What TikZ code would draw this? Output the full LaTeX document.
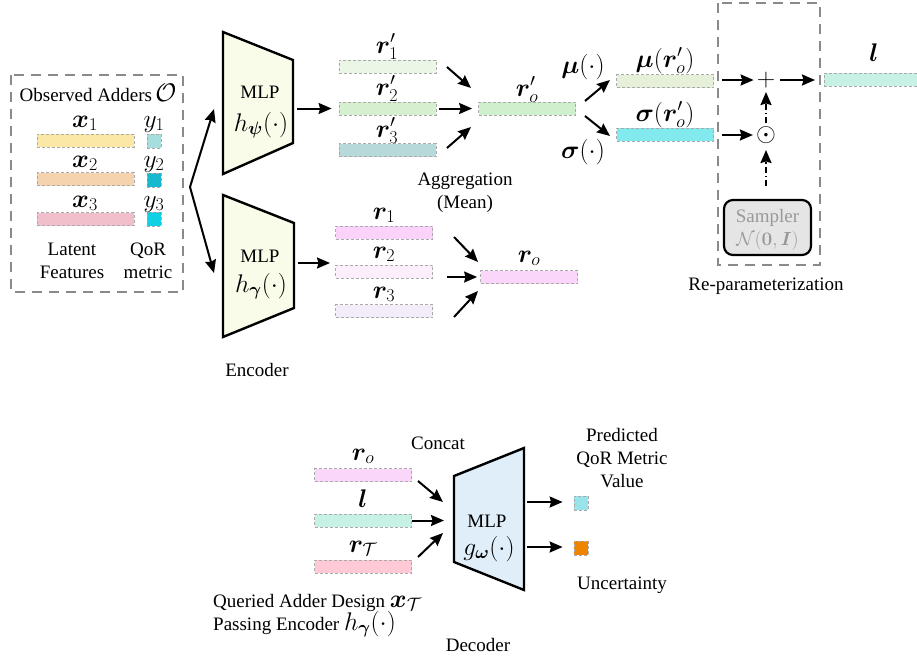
\documentclass[tikz,border=0pt]{standalone}
\usepackage{fix-cm}
\usepackage{amsmath}
\usepackage{bm}
\usepackage[no-math]{fontspec}
\setmainfont{Liberation Serif}
\DeclareMathSizes{19}{25.5}{18}{13}
\DeclareMathSizes{14.5}{19}{13.5}{9.5}
\usetikzlibrary{arrows.meta}

\definecolor{boxgray}{HTML}{8A8A8A}
\definecolor{bargray}{HTML}{AAAAAA}
\definecolor{cXa}{HTML}{FBE8A6}
\definecolor{cXb}{HTML}{F5D3AE}
\definecolor{cXc}{HTML}{F0BFCB}
\definecolor{cYa}{HTML}{A6DDDD}
\definecolor{cYb}{HTML}{18B8CF}
\definecolor{cYc}{HTML}{12D0E3}
\definecolor{cRPa}{HTML}{EAF7E6}
\definecolor{cRPb}{HTML}{D6F0CF}
\definecolor{cRPc}{HTML}{B7D9D9}
\definecolor{cRPo}{HTML}{CFF0CC}
\definecolor{cMu}{HTML}{E6F0D9}
\definecolor{cSig}{HTML}{82E9EF}
\definecolor{cL}{HTML}{C8F1E5}
\definecolor{cRa}{HTML}{FAD2FA}
\definecolor{cRb}{HTML}{FCEEFA}
\definecolor{cRc}{HTML}{F2EDF9}
\definecolor{cRo}{HTML}{FAD7FA}
\definecolor{cRT}{HTML}{FFCAD5}
\definecolor{cOutA}{HTML}{99E3EA}
\definecolor{cOutB}{HTML}{EE8500}
\definecolor{encfill}{HTML}{F9FCE9}
\definecolor{decfill}{HTML}{DFEEF9}
\definecolor{sampfill}{HTML}{E5E5E5}
\definecolor{samptext}{HTML}{999999}

\newcommand{\bv}[1]{\bm{#1}}

\begin{document}
\begin{tikzpicture}[x=1pt,y=-1pt,
  every node/.style={font=\fontsize{19}{23}\selectfont, inner sep=0pt},
  lab/.style={anchor=base},
  bar/.style={draw=bargray, dashed, dash pattern=on 3pt off 2pt, line width=0.8pt,
              minimum width=97pt, minimum height=13pt},
  sq/.style={draw=bargray, dashed, dash pattern=on 3pt off 2pt, line width=0.8pt,
             minimum width=14pt, minimum height=14pt},
  groupbox/.style={draw=boxgray, line width=2pt, dash pattern=on 10pt off 7pt},
  mlp/.style={draw=black, line width=2.4pt, line join=miter},
  arr/.style={-{Stealth[length=13pt,width=11pt,inset=1.5pt]}, line width=2pt},
  dotarr/.style={arr, dash pattern=on 6pt off 3pt on 1.5pt off 3pt}
]
\useasboundingbox (0,0) rectangle (917,661);

% ---------- observed adders ----------
\draw[groupbox] (11,75) rectangle (183,292);
\node[lab] (obs) at (98,101) {Observed Adders\,$\mathcal{O}$};
\node[bar, fill=cXa] (xa) at (85.5,140.5) {};
\node[bar, fill=cXb] (xb) at (85.5,179) {};
\node[bar, fill=cXc] (xc) at (85.5,219) {};
\node[lab] (xal) at (85,127) {$\bv{x}_1$};
\node[lab] (xbl) at (85,167) {$\bv{x}_2$};
\node[lab] (xcl) at (85,207) {$\bv{x}_3$};
\node[sq, fill=cYa] (ya) at (154,141) {};
\node[sq, fill=cYb] (yb) at (154,180) {};
\node[sq, fill=cYc] (yc) at (154,219) {};
\node[lab] (yal) at (154,127) {$y_1$};
\node[lab] (ybl) at (154,167) {$y_2$};
\node[lab] (ycl) at (154,207) {$y_3$};
\node[align=center] (latent) at (72,261) {Latent\\Features};
\node[align=center] (qor) at (148,261) {QoR\\metric};

% ---------- encoders ----------
\coordinate (fork) at (190,187);
\draw[mlp, fill=encfill] (223,32) -- (293,60) -- (293,143) -- (223,174) -- cycle;
\node[lab] (mlpa) at (260,98) {MLP};
\node[lab] (mlpaf) at (261,131) {$h_{\bv{\psi}}(\cdot)$};
\draw[mlp, fill=encfill] (223,195) -- (294,223) -- (294,308) -- (223,337) -- cycle;
\node[lab] (mlpb) at (260,262) {MLP};
\node[lab] (mlpbf) at (261,292) {$h_{\bv{\gamma}}(\cdot)$};
\coordinate (mlpaIn) at (214,109);
\coordinate (mlpbIn) at (214,273);
\draw[arr] (fork) -- (mlpaIn);
\draw[arr] (fork) -- (mlpbIn);
\node (enc) at (257,370) {Encoder};

% upper branch
\node[bar, fill=cRPa] (rpa) at (387.5,66.5) {};
\node[bar, fill=cRPb] (rpb) at (387.5,108.5) {};
\node[bar, fill=cRPc] (rpc) at (387.5,150) {};
\node[lab] (rpal) at (387,53) {$\bv{r}'_1$};
\node[lab] (rpbl) at (387,95) {$\bv{r}'_2$};
\node[lab] (rpcl) at (387,137) {$\bv{r}'_3$};
\coordinate (mlpaOut) at (297,108.5);
\draw[arr, shorten >=7pt] (mlpaOut) -- (rpb.west);
\node[bar, fill=cRPo] (rpo) at (527,108.5) {};
\node[lab] (rpol) at (527,96) {$\bv{r}'_o$};
\coordinate (aggA) at (447,67);
\coordinate (aggAe) at (471,88);
\coordinate (aggC) at (447,148);
\coordinate (aggCe) at (471,127);
\draw[arr] (aggA) -- (aggAe);
\draw[arr, shorten <=3pt, shorten >=6pt] (rpb.east) -- (rpo.west);
\draw[arr] (aggC) -- (aggCe);
\node[align=center] (agg) at (465,193) {Aggregation\\(Mean)};

% lower branch
\node[bar, fill=cRa] (ra) at (384,232.5) {};
\node[bar, fill=cRb] (rb) at (384,271.5) {};
\node[bar, fill=cRc] (rc) at (384,311) {};
\node[lab] (ral) at (384,219) {$\bv{r}_1$};
\node[lab] (rbl) at (384,258) {$\bv{r}_2$};
\node[lab] (rcl) at (384,298) {$\bv{r}_3$};
\coordinate (mlpbOut) at (298,263);
\coordinate (rbIn) at (330,263);
\draw[arr] (mlpbOut) -- (rbIn);
\node[bar, fill=cRo] (ro) at (529,277) {};
\node[lab] (rol) at (529,262) {$\bv{r}_o$};
\coordinate (mA) at (454,237);
\coordinate (mAe) at (478,262);
\coordinate (mB) at (447,277);
\coordinate (mC) at (454,317);
\coordinate (mCe) at (478,291);
\draw[arr] (mA) -- (mAe);
\draw[arr, shorten >=3pt] (mB) -- (ro.west);
\draw[arr] (mC) -- (mCe);

% ---------- mean / std heads ----------
\node[lab] (mufn) at (583,73) {$\bv{\mu}(\cdot)$};
\node[lab] (sigfn) at (583,158) {$\bv{\sigma}(\cdot)$};
\coordinate (hA) at (585,101);
\coordinate (hAe) at (610,80);
\coordinate (hB) at (585,116);
\coordinate (hBe) at (610,136);
\draw[arr] (hA) -- (hAe);
\draw[arr] (hB) -- (hBe);
\node[bar, fill=cMu] (mu) at (665,81) {};
\node[bar, fill=cSig] (sig) at (665,134.5) {};
\node[lab] (mul) at (665,67) {$\bv{\mu}(\bv{r}'_o)$};
\node[lab] (sigl) at (665,121) {$\bv{\sigma}(\bv{r}'_o)$};

% ---------- re-parameterization ----------
\draw[groupbox] (718,3) rectangle (820,265);
\node (plus) at (766,80) {$+$};
\node (odot) at (766,135) {$\odot$};
\coordinate (muIn) at (722,80);
\coordinate (sigIn) at (722,135);
\draw[arr, shorten >=3pt] (muIn) -- (plus.west);
\draw[arr, shorten >=3pt] (sigIn) -- (odot.west);
\node[draw=black, line width=2.2pt, fill=sampfill, rounded corners=9pt,
      minimum width=87pt, minimum height=55pt] (samp) at (767.5,227.5) {};
\node[text=samptext] (sampname) at (767.5,218) {Sampler};
\node[text=samptext, font=\fontsize{14.5}{17}\selectfont] (sampdist) at (767.5,241)
      {$\mathcal{N}(\bv{0},\bv{I})$};
\coordinate (sampTop) at (766,186);
\coordinate (odotBot) at (766,150);
\coordinate (odotTop) at (766,123);
\coordinate (plusBot) at (766,92);
\draw[dotarr] (sampTop) -- (odotBot);
\draw[dotarr] (odotTop) -- (plusBot);
\node (reparam) at (766,286) {Re-parameterization};
\node[bar, fill=cL, minimum width=100pt] (lvec) at (874,79.5) {};
\node[lab] (lvecl) at (874,62) {$\bv{l}$};
\coordinate (lIn) at (815,80);
\draw[arr, shorten <=5pt] (plus.east) -- (lIn);

% ---------- decoder ----------
\node[bar, fill=cRo] (dro) at (363,475) {};
\node[bar, fill=cL] (dl) at (363,520.5) {};
\node[bar, fill=cRT] (drt) at (363,566.5) {};
\node[lab] (drol) at (363,460) {$\bv{r}_o$};
\node[lab] (dll) at (363,507) {$\bv{l}$};
\node[lab] (drtl) at (363,552) {$\bv{r}_{\mathcal{T}}$};
\node (concat) at (438,443) {Concat};
\draw[mlp, fill=decfill] (454,476) -- (524,448) -- (524,590) -- (454,562) -- cycle;
\node[lab] (mlpc) at (487,527) {MLP};
\node[lab] (mlpcf) at (489,555) {$g_{\bv{\omega}}(\cdot)$};
\coordinate (cA) at (418,481);
\coordinate (cAe) at (443,502);
\coordinate (cB) at (412,520.5);
\coordinate (cBe) at (444,520.5);
\coordinate (cC) at (418,557);
\coordinate (cCe) at (443,533);
\draw[arr] (cA) -- (cAe);
\draw[arr] (cB) -- (cBe);
\draw[arr] (cC) -- (cCe);
\node[sq, fill=cOutA] (outa) at (581,503) {};
\node[sq, fill=cOutB] (outb) at (581,548) {};
\coordinate (decOutA) at (527,502);
\coordinate (decOutB) at (527,547);
\draw[arr, shorten >=11pt] (decOutA) -- (outa.west |- decOutA);
\draw[arr, shorten >=11pt] (decOutB) -- (outb.west |- decOutB);
\node[align=center] (pred) at (622,458) {Predicted\\QoR Metric\\Value};
\node (unc) at (622,585) {Uncertainty};
\node[anchor=base west] (querya) at (213,607) {Queried Adder Design $\bv{x}_{\mathcal{T}}$};
\node[anchor=base west] (queryb) at (213,630) {Passing Encoder $h_{\bv{\gamma}}(\cdot)$};
\node (dec) at (478,645) {Decoder};
\end{tikzpicture}
\end{document}
